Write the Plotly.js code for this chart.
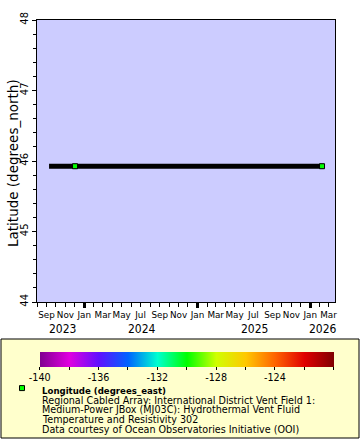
<!DOCTYPE html>
<html>
<head>
<meta charset="utf-8">
<script src="https://cdn.plot.ly/plotly-3.0.1.min.js"></script>
<style>html,body{margin:0;padding:0;background:#fff;}#chart{width:360px;height:440px;}</style>
</head>
<body>
<div id="chart"></div>
<script>
// ---- data ----
var trackTimes = ['2023-09-09', '2026-02-15'];
var trackLat = [45.926, 45.926];
var pointTimes = ['2023-12-02', '2026-02-08'];
var pointLat = [45.926, 45.926];
var pointLon = [-129.98, -129.98];
var xRange = ['2023-08-01', '2026-03-22'];
var yRange = [44, 48];
var yTitle = 'Latitude (degrees_north)';
var yearLabels = ['2023', '2024', '2025', '2026'];
var yearPos = ['2023-10-21', '2024-07-06', '2025-07-06', '2026-02-12'];
var janTicks = ['2024-01-01', '2025-01-01', '2026-01-01'];
var cbTickVals = [-140, -138, -136, -134, -132, -130, -128, -126, -124, -122, -120];
var cbTickText = ['-140', '', '-136', '', '-132', '', '-128', '', '-124', '', '-120'];
var legendTitle = 'Longitude (degrees_east)';
var legendLines = [
  'Regional Cabled Array: International District Vent Field 1:',
  'Medium-Power JBox (MJ03C): Hydrothermal Vent Fluid',
  'Temperature and Resistivity 302',
  'Data courtesy of Ocean Observatories Initiative (OOI)'
];
var rainbow = [
  [0.0, '#800090'], [0.1, '#e000e0'], [0.2, '#6010ff'], [0.3, '#0064ff'],
  [0.4, '#00ffd0'], [0.5, '#00ff00'], [0.6, '#d0ff00'], [0.7, '#ffc800'],
  [0.8, '#ff6400'], [0.9, '#e00000'], [1.0, '#800000']
];

var FONT = 'DejaVu Sans, sans-serif';
var CFONT = 'DejaVu Sans Condensed, DejaVu Sans, sans-serif';
// plot area in pixels
var PL = 37, PR = 335, PT = 20, PB = 302;
function px(x) { return (x - PL) / (PR - PL); }
function py(y) { return (PB - y) / (PB - PT); }

var traces = [
  {
    x: trackTimes, y: trackLat, type: 'scatter', mode: 'lines',
    line: {color: '#000000', width: 5}, showlegend: false, hoverinfo: 'skip'
  },
  {
    x: pointTimes, y: pointLat, type: 'scatter', mode: 'markers',
    name: '<b>' + legendTitle + '</b>',
    marker: {
      symbol: 'square', size: 5, color: pointLon,
      colorscale: rainbow, cmin: -140, cmax: -120,
      line: {color: '#000000', width: 1},
      showscale: true,
      colorbar: {
        orientation: 'h', xref: 'container', yref: 'container',
        x: 48 / 360, xanchor: 'left', y: 1 - 352 / 440, yanchor: 'top',
        lenmode: 'pixels', len: 294, thicknessmode: 'pixels', thickness: 15,
        outlinewidth: 0, xpad: 0, ypad: 0,
        tickmode: 'array', tickvals: cbTickVals, ticktext: cbTickText,
        ticks: 'outside', ticklen: 3, tickcolor: '#000', tickwidth: 1,
        tickfont: {family: FONT, size: 9.6, color: '#000'}
      }
    },
    showlegend: true
  },
  {
    x: janTicks, y: [null, null, null], xaxis: 'x2', type: 'scatter', mode: 'markers',
    showlegend: false, hoverinfo: 'skip'
  }
];

var annotations = [
  {
    x: px(13), xref: 'paper', y: py(163), yref: 'paper', textangle: -90,
    text: yTitle, showarrow: false, xanchor: 'center', yanchor: 'middle',
    font: {family: FONT, size: 13.5, color: '#000'}
  }
];
for (var i = 0; i < yearLabels.length; i++) {
  annotations.push({
    x: yearPos[i], xref: 'x', y: py(329), yref: 'paper',
    text: yearLabels[i], showarrow: false, xanchor: 'center', yanchor: 'middle',
    font: {family: CFONT, size: 12, color: '#000'}
  });
}
for (var j = 0; j < legendLines.length; j++) {
  annotations.push({
    x: px(40), xref: 'paper', y: py(400 + j * 9.8), yref: 'paper',
    text: legendLines[j], showarrow: false, xanchor: 'left', yanchor: 'middle',
    align: 'left',
    font: {family: FONT, size: 9.6, color: '#000'}
  });
}

var layout = {
  width: 360, height: 440,
  margin: {l: PL, r: 360 - PR, t: PT, b: 440 - PB, autoexpand: false},
  paper_bgcolor: '#ffffff', plot_bgcolor: '#ccccff',
  font: {family: FONT, color: '#000'},
  showlegend: true,
  legend: {
    xref: 'container', yref: 'container', x: 2 / 360, xanchor: 'left',
    y: 1 - 376 / 440, yanchor: 'top', bgcolor: 'rgba(0,0,0,0)', borderwidth: 0,
    font: {family: FONT, size: 8.6, color: '#000'}, valign: 'top'
  },
  xaxis: {
    type: 'date', range: xRange, showgrid: false, zeroline: false,
    showline: true, linecolor: '#000', linewidth: 1, mirror: true,
    tick0: '2023-09-01', dtick: 'M2', tickformat: '%b', tickangle: 0,
    ticks: 'outside', ticklen: 4, tickcolor: '#000',
    tickfont: {family: FONT, size: 8.8, color: '#000'},
    minor: {dtick: 'M1', tick0: '2023-08-01', ticks: 'outside', ticklen: 4, tickcolor: '#000', showgrid: false}
  },
  xaxis2: {
    type: 'date', overlaying: 'x', side: 'bottom', range: xRange, matches: 'x',
    tickmode: 'array', tickvals: janTicks, showticklabels: false,
    ticks: 'outside', ticklen: 5, tickwidth: 3, tickcolor: '#000',
    showgrid: false, zeroline: false, showline: false
  },
  yaxis: {
    range: yRange, dtick: 1, showgrid: false, zeroline: false,
    showline: true, linecolor: '#000', linewidth: 1, mirror: true,
    ticks: 'outside', ticklen: 4, tickcolor: '#000', tickangle: -90,
    tickfont: {family: CFONT, size: 11, color: '#000'},
    minor: {dtick: 0.2, ticks: 'outside', ticklen: 3, tickcolor: '#000', showgrid: false}
  },
  shapes: [
    {
      type: 'rect', xref: 'paper', yref: 'paper', layer: 'below',
      x0: px(1), x1: px(359), y0: py(339), y1: py(438),
      fillcolor: '#ffffcc', line: {color: '#000', width: 1}
    }
  ],
  annotations: annotations
};

Plotly.newPlot('chart', traces, layout, {staticPlot: true, displayModeBar: false});
</script>
</body>
</html>
